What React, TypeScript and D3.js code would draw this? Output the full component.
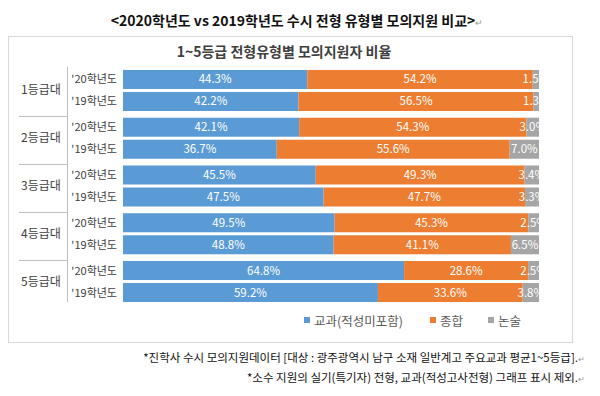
import React from "react";
import * as d3 from "d3";

const groups = ["1등급대", "2등급대", "3등급대", "4등급대", "5등급대"];
const years = ["'20학년도", "'19학년도"];
const seriesKeys = ["교과(적성미포함)", "종합", "논술"];
const colors = ["#5B9BD5", "#ED7D31", "#A5A5A5"];

const gyogwa20 = [44.3, 42.1, 45.5, 49.5, 64.8];
const gyogwa19 = [42.2, 36.7, 47.5, 48.8, 59.2];
const jonghap20 = [54.2, 54.3, 49.3, 45.3, 28.6];
const jonghap19 = [56.5, 55.6, 47.7, 41.1, 33.6];
const nonsul20 = [1.5, 3.0, 3.4, 2.5, 2.5];
const nonsul19 = [1.3, 7.0, 3.3, 6.5, 3.8];

const title = "<2020학년도 vs 2019학년도 수시 전형 유형별 모의지원 비교>";
const chartTitle = "1~5등급 전형유형별 모의지원자 비율";
const notes = [
  "*진학사 수시 모의지원데이터 [대상 : 광주광역시 남구 소재 일반계고 주요교과 평균1~5등급].",
  "*소수 지원의 실기(특기자) 전형, 교과(적성고사전형) 그래프 표시 제외.",
];

type Row = { group: string; year: string; [k: string]: any };

const rows: Row[] = [];
groups.forEach((g, i) => {
  rows.push({ group: g, year: years[0], [seriesKeys[0]]: gyogwa20[i], [seriesKeys[1]]: jonghap20[i], [seriesKeys[2]]: nonsul20[i] });
  rows.push({ group: g, year: years[1], [seriesKeys[0]]: gyogwa19[i], [seriesKeys[1]]: jonghap19[i], [seriesKeys[2]]: nonsul19[i] });
});

const FONT = "'Noto Sans CJK KR', 'Noto Sans', sans-serif";

export default function App() {
  const W = 600, H = 396;
  const x = d3.scaleLinear().domain([0, 1]).range([123, 539]);
  const gy = d3.scaleBand().domain(groups).range([66.6, 305.4]).paddingInner(0.141).paddingOuter(0.0705);
  const iy = d3.scaleBand().domain(years).range([0, gy.bandwidth()]).paddingInner(0.136).paddingOuter(0);
  const stack = d3.stack<Row>().keys(seriesKeys).value((d, k) => d[k]).offset(d3.stackOffsetExpand);
  const series = stack(rows);
  const yOf = (r: Row) => (gy(r.group) as number) + (iy(r.year) as number);
  const [r0, r1] = gy.range();

  const legendItems = [
    { x: 304, label: seriesKeys[0] },
    { x: 430, label: seriesKeys[1] },
    { x: 488, label: seriesKeys[2] },
  ];

  return (
    <svg width={W} height={H} style={{ position: "absolute", left: 0, top: 0, background: "#fff" }} fontFamily={FONT}>
      <defs>
        <clipPath id="plotClip">
          <rect x={x(0)} y={0} width={x(1) - x(0)} height={H} />
        </clipPath>
      </defs>
      <text x={297} y={26} textAnchor="middle" fontSize={14} fontWeight="bold" fill="#111">
        {title}
        <tspan fill="#999" fontWeight="normal" fontSize={9}>↵</tspan>
      </text>
      <rect x={8.5} y={36.5} width={564} height={306} fill="#fff" stroke="#d9d9d9" />
      <text x={284} y={57} textAnchor="middle" fontSize={14} fontWeight="bold" fill="#404040">{chartTitle}</text>

      {/* axis */}
      <line x1={67.5} x2={67.5} y1={r0} y2={r1 - 3} stroke="#bfbfbf" />
      {groups.slice(1).map((g) => (
        <line key={g} x1={19} x2={67.5} y1={Math.round((gy(g) as number) - 1.5) + 0.5} y2={Math.round((gy(g) as number) - 1.5) + 0.5} stroke="#bfbfbf" />
      ))}
      {groups.map((g) => (
        <text key={g} x={41} y={(gy(g) as number) + gy.bandwidth() / 2 + 4} textAnchor="middle" fontSize={12} fill="#404040">{g}</text>
      ))}
      {rows.map((r, i) => (
        <text key={i} x={117} y={yOf(r) + iy.bandwidth() / 2 + 4} textAnchor="end" fontSize={11} fill="#404040">{r.year}</text>
      ))}

      {/* bars */}
      {series.map((s, si) => (
        <g key={s.key} fill={colors[si]}>
          {s.map((d, i) => (
            <rect key={i} x={x(d[0])} y={yOf(rows[i])} width={x(d[1]) - x(d[0])} height={iy.bandwidth()} />
          ))}
        </g>
      ))}
      {/* labels */}
      <g clipPath="url(#plotClip)">
        {series.map((s, si) =>
          s.map((d, i) => (
            <text key={`${si}-${i}`} x={(x(d[0]) + x(d[1])) / 2} y={yOf(rows[i]) + iy.bandwidth() / 2 + 4} textAnchor="middle" fontSize={11.5} fill="#fff">
              {rows[i][s.key].toFixed(1)}%
            </text>
          ))
        )}
      </g>

      {/* legend */}
      {legendItems.map((l, i) => (
        <g key={l.label}>
          <rect x={l.x} y={317} width={6} height={6} fill={colors[i]} />
          <text x={l.x + 10} y={326} fontSize={12.5} fill="#595959">{l.label}</text>
        </g>
      ))}

      {/* notes */}
      {notes.map((n, i) => (
        <text key={i} x={585} y={362 + i * 20} textAnchor="end" fontSize={11.5} fill="#111">
          {n}
          <tspan fill="#999" fontSize={8}>↵</tspan>
        </text>
      ))}
    </svg>
  );
}
